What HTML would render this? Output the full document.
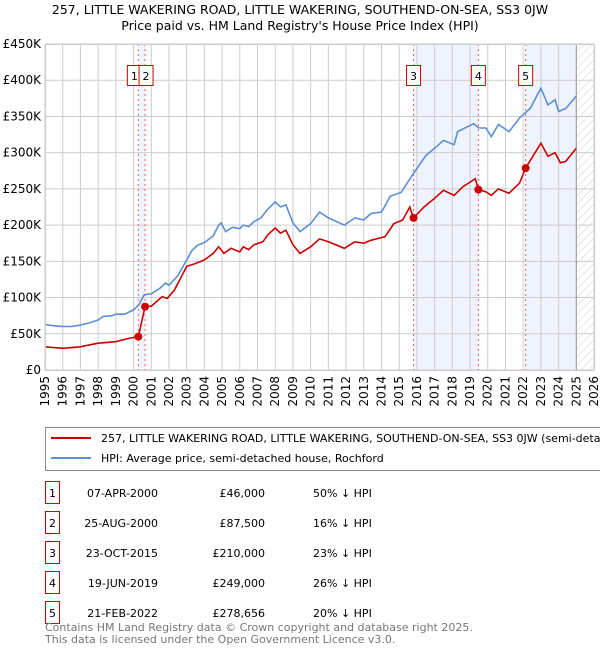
<!DOCTYPE html>
<html><head><meta charset="utf-8"><style>
body{margin:0;background:#fff;font-family:"Liberation Sans","DejaVu Sans",sans-serif;}
svg text{font-family:"DejaVu Sans","Liberation Sans",sans-serif;}
</style></head><body>
<svg id="chart" width="600" height="650" xmlns="http://www.w3.org/2000/svg">
<defs><pattern id="hatch" width="6" height="6" patternUnits="userSpaceOnUse" patternTransform="rotate(45)"><line x1="0" y1="0" x2="0" y2="6" stroke="#ccc" stroke-width="1"/></pattern></defs>
<text x="300" y="14" font-size="12.5" text-anchor="middle" fill="#000">257, LITTLE WAKERING ROAD, LITTLE WAKERING, SOUTHEND-ON-SEA, SS3 0JW</text>
<text x="300" y="30" font-size="12.5" text-anchor="middle" fill="#000">Price paid vs. HM Land Registry's House Price Index (HPI)</text>
<g id="plot"></g>
<rect x="45.5" y="427.5" width="570" height="43" fill="#fff" stroke="#888"/>
<line x1="51" y1="438" x2="91" y2="438" stroke="#cc0000" stroke-width="2"/>
<text x="101" y="442" font-size="11">257, LITTLE WAKERING ROAD, LITTLE WAKERING, SOUTHEND-ON-SEA, SS3 0JW (semi-detached house)</text>
<line x1="51" y1="458" x2="91" y2="458" stroke="#5b8fd4" stroke-width="2"/>
<text x="101" y="462" font-size="11">HPI: Average price, semi-detached house, Rochford</text>
<g id="table"></g>
<text x="45" y="631" font-size="11" fill="#777">Contains HM Land Registry data © Crown copyright and database right 2025.</text>
<text x="45" y="643" font-size="11" fill="#777">This data is licensed under the Open Government Licence v3.0.</text>
</svg>
<script>
const hpiYears=[1995,1995.5,1996,1996.5,1997,1997.5,1998,1998.3,1998.8,1999,1999.5,2000,2000.3,2000.6,2001,2001.5,2001.8,2002,2002.5,2003,2003.3,2003.6,2004,2004.5,2004.8,2004.95,2005.2,2005.6,2006,2006.2,2006.5,2006.8,2007.2,2007.5,2008,2008.3,2008.6,2009,2009.4,2010,2010.5,2011,2011.9,2012.5,2013,2013.4,2014,2014.5,2015.1,2015.8,2016.5,2017,2017.5,2018.1,2018.3,2019.2,2019.5,2019.9,2020.2,2020.6,2021.2,2021.8,2022.4,2023,2023.4,2023.8,2024,2024.4,2025];
const hpiValues=[63,61,60,60,62,65,69,74,75,77,77,83,90,104,105,113,120,117,130,152,165,172,176,185,200,203,191,197,195,200,198,205,210,220,232,225,228,203,191,202,218,210,200,210,207,216,218,240,245,271,296,306,317,311,329,340,334,334,322,339,329,348,361,389,366,373,357,361,378];
const priceYears=[1995,1996,1997,1998,1999,1999.8,2000.27,2000.65,2001,2001.6,2001.9,2002.3,2003,2003.5,2004,2004.5,2004.8,2005.1,2005.5,2006,2006.2,2006.5,2006.8,2007.3,2007.6,2008,2008.3,2008.6,2009,2009.4,2010,2010.5,2011,2011.9,2012.5,2013,2013.4,2014.2,2014.7,2015.2,2015.6,2015.81,2016.4,2017,2017.5,2018.1,2018.6,2019.3,2019.47,2019.9,2020.2,2020.6,2021.2,2021.8,2022.14,2023,2023.4,2023.8,2024.1,2024.4,2025];
const priceValues=[32,30,32,37,39,44,46,87.5,88,101,99,110,143,147,152,161,170,161,168,163,170,166,173,177,187,196,189,193,173,161,170,181,177,168,177,175,179,184,202,207,225,210,225,237,248,241,253,264,249,246,241,250,244,258,278.656,313,295,300,286,288,306];
const saleYears=[2000.27,2000.65,2015.81,2019.47,2022.14];
const saleValues=[46,87.5,210,249,278.656];
const saleLabels=["1","2","3","4","5"];
const saleDates=["07-APR-2000","25-AUG-2000","23-OCT-2015","19-JUN-2019","21-FEB-2022"];
const salePrices=["£46,000","£87,500","£210,000","£249,000","£278,656"];
const saleHpi=["50% ↓ HPI","16% ↓ HPI","23% ↓ HPI","26% ↓ HPI","20% ↓ HPI"];
const yTicks=[0,50,100,150,200,250,300,350,400,450];
const yTickLabels=["£0","£50K","£100K","£150K","£200K","£250K","£300K","£350K","£400K","£450K"];
const xMin=1995,xMax=2026,yMax=450;
const L=45,R=594,T=44,B=370;
const X=v=>L+(v-xMin)/(xMax-xMin)*(R-L);
const Y=v=>B-v/yMax*(B-T);
const NS="http://www.w3.org/2000/svg";
const plot=document.getElementById('plot');
function mk(tag,attrs,parent){const e=document.createElementNS(NS,tag);for(const k in attrs)e.setAttribute(k,attrs[k]);(parent||plot).appendChild(e);return e;}
// shading
const shades=[[0,1],[2,3]];
shades.forEach(s=>{const r=mk('rect',{x:X(saleYears[s[0]]),y:T,width:X(saleYears[s[1]])-X(saleYears[s[0]]),height:B-T,fill:'#eef3fd'});

});
const r5=mk('rect',{x:X(saleYears[4]),y:T,width:X(2025)-X(saleYears[4]),height:B-T,fill:'#eef3fd'});


const hz=mk('rect',{x:X(2025),y:T,width:R-X(2025),height:B-T,fill:'url(#hatch)'});


// grid
for(let yr=xMin;yr<=xMax;yr++){
const g=mk('line',{x1:X(yr),x2:X(yr),y1:T,y2:B,stroke:'#ccc','stroke-width':1});


const t=mk('text',{x:0,y:0,'font-size':12,'text-anchor':'end',transform:`translate(${X(yr)+4},${B+6}) rotate(-90)`});
t.textContent=yr;

}
yTicks.forEach((v,i)=>{
const g=mk('line',{x1:L,x2:R,y1:Y(v),y2:Y(v),stroke:'#ccc','stroke-width':1});


const t=mk('text',{x:L-4,y:Y(v)+4,'font-size':12,'text-anchor':'end'});
t.textContent=yTickLabels[i];

});
const el=mk('line',{x1:X(2025),x2:X(2025),y1:T,y2:B,stroke:'#999','stroke-width':1});


// sale lines
saleYears.forEach((s,i)=>{const l=mk('line',{x1:X(s),x2:X(s),y1:T,y2:B,stroke:'#f06060','stroke-width':1,'stroke-dasharray':'2,3'});

});
function path(xs,ys,color,name){const d=xs.map((x,i)=>(i?'L':'M')+X(x).toFixed(1)+','+Y(ys[i]).toFixed(1)).join('');
const p=mk('path',{d:d,fill:'none',stroke:color,'stroke-width':1.6});

}
path(hpiYears,hpiValues,'#5b8fd4','hpi-line');
path(priceYears,priceValues,'#cc0000','price-paid-line');
saleYears.forEach((s,i)=>{const c=mk('circle',{cx:X(s),cy:Y(saleValues[i]),r:4,fill:'#cc0000'});


const off=i===0?-7:(i===1?3:-7);
const bx=i===0?X(s)-11:(i===1?X(s)-6:X(s)-7);
const b=mk('rect',{x:bx,y:65.5,width:14,height:20,fill:'#fff',stroke:'#cc0000','stroke-width':1});


const t=mk('text',{x:bx+7,y:80,'font-size':11,'text-anchor':'middle'});
t.textContent=saleLabels[i];

});
mk('rect',{x:L+0.5,y:T+0.5,width:R-L,height:B-T,fill:'none',stroke:'#ccc'});
// table
const tb=document.getElementById('table');
saleLabels.forEach((lab,i)=>{const y=493+i*30;
const b=mk('rect',{x:45.5,y:y-11.5,width:14,height:22,fill:'#fff',stroke:'#cc0000'},tb);


const cells=[[52.5,lab,'middle','table-row-number'],[158,saleDates[i],'end','table-date'],[265,salePrices[i],'end','table-price'],[313,saleHpi[i],'start','table-hpi-diff']];
cells.forEach(c=>{const t=mk('text',{x:c[0],y:y+4,'font-size':11,'text-anchor':c[2]},tb);
t.textContent=c[1];

});});
</script>
</body></html>
